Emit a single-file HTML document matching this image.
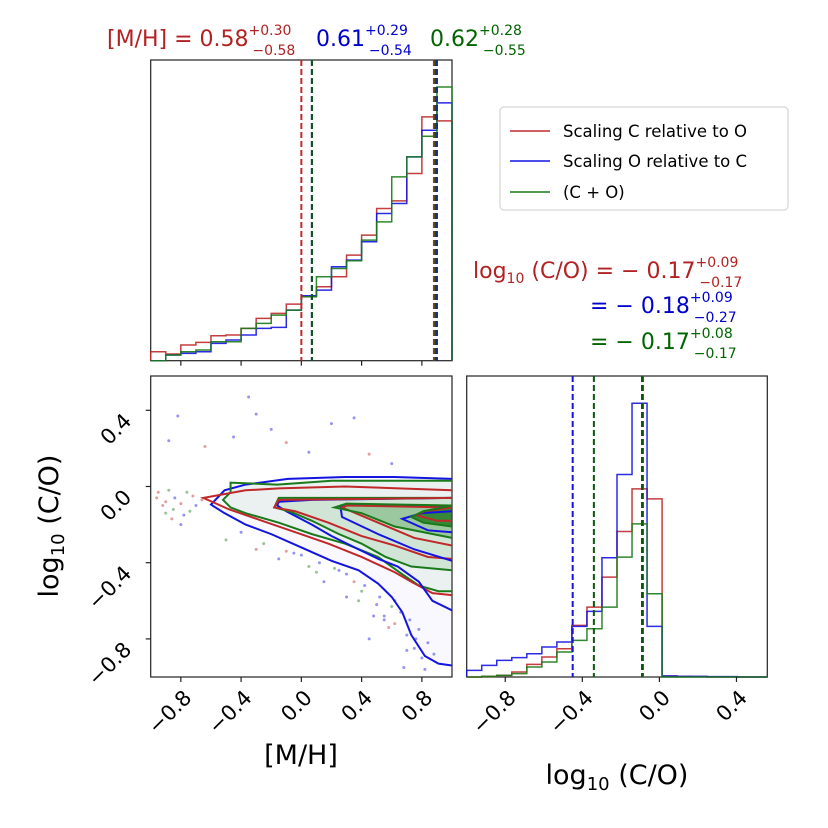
<!DOCTYPE html>
<html><head><meta charset="utf-8"><style>
html,body{margin:0;padding:0;background:#fff;}
svg{display:block;font-family:"DejaVu Sans","Liberation Sans",sans-serif;}
</style></head><body>
<svg id="fig" width="828" height="828" viewBox="0 0 828 828" xmlns="http://www.w3.org/2000/svg">
<g id="layer"></g>
<text x="107" y="46" font-size="22" fill="#b22222">[M/H] = 0.58<tspan font-size="14" dy="-11">+0.30</tspan><tspan font-size="14" dx="-39" dy="20">−0.58</tspan></text>
<text x="316" y="46" font-size="22" fill="#0000cd">0.61<tspan font-size="14" dy="-11">+0.29</tspan><tspan font-size="14" dx="-39" dy="20">−0.54</tspan></text>
<text x="430" y="46" font-size="22" fill="#006400">0.62<tspan font-size="14" dy="-11">+0.28</tspan><tspan font-size="14" dx="-39" dy="20">−0.55</tspan></text>
<text x="473" y="278" font-size="22" fill="#b22222">log<tspan font-size="14" dy="5">10</tspan><tspan dy="-5"> (C/O) = − 0.17</tspan><tspan font-size="14" dy="-11">+0.09</tspan><tspan font-size="14" dx="-39" dy="20">−0.17</tspan></text>
<text x="590" y="313" font-size="22" fill="#0000cd">= − 0.18<tspan font-size="14" dy="-11">+0.09</tspan><tspan font-size="14" dx="-39" dy="20">−0.27</tspan></text>
<text x="590" y="349" font-size="22" fill="#006400">= − 0.17<tspan font-size="14" dy="-11">+0.08</tspan><tspan font-size="14" dx="-39" dy="20">−0.17</tspan></text>
<g>
<rect x="500" y="107" width="288" height="103" rx="4" fill="#fff" stroke="#ccc"/>
<line x1="510" y1="131" x2="550" y2="131" stroke="#c0282a" stroke-width="1.6"/>
<text x="563" y="137" font-size="16.5">Scaling C relative to O</text>
<line x1="510" y1="161" x2="550" y2="161" stroke="#1414e0" stroke-width="1.6"/>
<text x="563" y="167" font-size="16.5">Scaling O relative to C</text>
<line x1="510" y1="192" x2="550" y2="192" stroke="#1a7a1a" stroke-width="1.6"/>
<text x="563" y="198" font-size="16.5">(C + O)</text>
</g>
<text transform="translate(58,526) rotate(-90)" text-anchor="middle" font-size="27">log<tspan font-size="18" dy="6">10</tspan><tspan dy="-6"> (C/O)</tspan></text>
<text x="301" y="764" text-anchor="middle" font-size="27">[M/H]</text>
<text x="617" y="784" text-anchor="middle" font-size="27">log<tspan font-size="18" dy="6">10</tspan><tspan dy="-6"> (C/O)</tspan></text>
</svg>
<script>
// ---- data ----
const mhBinsLo = -1.0, mhBinsHi = 1.0;
const mhRed   = [27,20,47,55,75,77,97,127,142,170,192,222,252,317,377,457,480,562,732,720];
const mhBlue  = [0,17,22,27,52,62,77,97,100,152,195,212,282,302,357,442,472,612,692,774];
const mhGreen = [0,17,27,32,57,57,97,112,137,152,192,252,277,300,362,417,552,612,674,822];
const mhMax = 902;
const coBinsLo = -1.0, coBinsHi = 0.56;
const coRed   = [0,2,5,15,38,60,85,155,210,300,437,565,535,3,2,1,0,0,0,0];
const coBlue  = [20,35,50,58,70,90,105,152,197,358,608,822,152,3,2,2,1,1,0,0];
const coGreen = [0,2,5,10,30,45,75,110,145,210,360,460,250,0,0,0,0,0,0,0];
const coMax = 903;
const mhQuantRed = [0.0, 0.88], mhQuantBlue = [0.07, 0.90], mhQuantGreen = [0.07, 0.89];
const coQuantRed = [-0.085], coQuantBlue = [-0.45, -0.09], coQuantGreen = [-0.34, -0.09];
const mhTicks = [-0.8,-0.4,0.0,0.4,0.8];
const mhTickLabels = ["−0.8","−0.4","0.0","0.4","0.8"];
const coTicks = [-0.8,-0.4,0.0,0.4];
const coTickLabels = ["−0.8","−0.4","0.0","0.4"];
const blueOuterX = [1.0,0.62,0.29,-0.09,-0.37,-0.51,-0.6,-0.51,-0.37,-0.2,0.0,0.2,0.38,0.51,0.6,0.67,0.73,0.82,0.91,1.0];
const blueOuterY = [0.04,0.05,0.05,0.04,0.01,-0.02,-0.095,-0.14,-0.2,-0.25,-0.32,-0.39,-0.44,-0.51,-0.58,-0.66,-0.78,-0.89,-0.93,-0.94];
const greenOuterX = [1.0,0.2,-0.16,-0.47,-0.47,-0.52,-0.47,-0.37,-0.15,0.07,0.29,0.51,0.65,0.78,0.91,1.0];
const greenOuterY = [0.03,0.03,0.01,0.02,-0.03,-0.07,-0.11,-0.14,-0.19,-0.25,-0.3,-0.37,-0.45,-0.52,-0.55,-0.55];
const redOuterX = [1.0,0.29,-0.15,-0.37,-0.65,-0.48,-0.26,-0.04,0.18,0.4,0.62,0.73,0.87,1.0];
const redOuterY = [-0.02,0.0,-0.01,-0.02,-0.06,-0.12,-0.18,-0.24,-0.3,-0.37,-0.45,-0.5,-0.56,-0.57];
const blueMidX = [1.0,0.07,-0.15,-0.16,-0.1,0.07,0.2,0.38,0.51,0.64,0.78,0.87,1.0];
const blueMidY = [-0.06,-0.07,-0.08,-0.1,-0.13,-0.2,-0.26,-0.33,-0.38,-0.42,-0.5,-0.6,-0.65];
const greenMidX = [1.0,-0.15,-0.18,-0.08,0.07,0.25,0.4,0.56,0.73,1.0];
const greenMidY = [-0.06,-0.06,-0.11,-0.13,-0.18,-0.25,-0.3,-0.37,-0.42,-0.44];
const redMidX = [1.0,-0.15,-0.18,-0.04,0.18,0.4,0.62,0.84,1.0];
const redMidY = [-0.06,-0.07,-0.11,-0.13,-0.19,-0.26,-0.31,-0.37,-0.38];
const blueInX = [1.0,0.3,0.26,0.27,0.51,0.75,1.0];
const blueInY = [-0.1,-0.1,-0.11,-0.16,-0.25,-0.33,-0.39];
const greenInX = [1.0,0.3,0.22,0.4,0.62,1.0];
const greenInY = [-0.1,-0.09,-0.11,-0.14,-0.21,-0.27];
const redInX = [1.0,0.3,0.27,0.51,0.75,1.0];
const redInY = [-0.11,-0.1,-0.11,-0.19,-0.27,-0.31];
const blueCoreX = [1.0,0.8,0.67,0.84,1.0];
const blueCoreY = [-0.13,-0.14,-0.17,-0.23,-0.24];
const greenCoreX = [1.0,0.81,0.73,0.81,1.0];
const greenCoreY = [-0.1,-0.13,-0.16,-0.19,-0.21];
const redCoreX = [1.0,0.82,0.76,0.9,1.0];
const redCoreY = [-0.11,-0.13,-0.15,-0.18,-0.18];
const scatX = [-0.88,-0.82,-0.64,-0.45,-0.35,-0.3,-0.2,-0.1,0.05,0.2,0.35,0.45,0.6,-0.9,-0.85,-0.78,-0.72,-0.95,-0.5,-0.3,-0.15,0.05,0.15,0.3,0.4,0.5,0.55,0.62,0.7,0.75,0.8,0.3,0.1,-0.05,0.45,0.68,
  -0.92,-0.88,-0.84,-0.8,-0.76,-0.7,-0.66,-0.9,-0.86,-0.8,-0.74,-0.96,-0.4,-0.25,-0.1,0.0,0.12,0.22,0.35,0.42,0.52,0.6,0.66,0.72,0.78,0.84,0.7,0.58,0.48,0.38,0.25,0.62,0.76,0.88,0.55,0.82];
const scatY = [0.24,0.37,0.21,0.26,0.47,0.38,0.3,0.23,0.18,0.33,0.36,0.17,0.12,-0.08,-0.12,-0.15,-0.05,-0.03,-0.28,-0.33,-0.38,-0.42,-0.5,-0.46,-0.55,-0.62,-0.68,-0.72,-0.78,-0.85,-0.9,-0.58,-0.45,-0.35,-0.8,-0.95,
  -0.1,-0.02,-0.06,-0.09,-0.03,-0.1,-0.07,-0.14,-0.17,-0.2,-0.13,-0.06,-0.24,-0.3,-0.34,-0.36,-0.4,-0.43,-0.5,-0.52,-0.58,-0.63,-0.66,-0.7,-0.75,-0.82,-0.86,-0.74,-0.68,-0.6,-0.44,-0.6,-0.8,-0.88,-0.7,-0.96];
const scatC = ["b","b","r","b","b","b","b","r","b","b","b","r","b","r","g","b","r","r","g","r","b","g","b","b","g","b","b","r","b","b","b","b","g","b","b","b",
  "r","g","b","r","g","b","r","g","r","b","g","r","b","g","r","b","b","g","r","b","b","g","b","b","b","b","b","r","b","g","b","b","b","b","b","b"];

// ---- helpers ----
const NS="http://www.w3.org/2000/svg";
const L=document.getElementById('layer');
function mk(tag,attrs,parent){const e=document.createElementNS(NS,tag);for(const k in attrs)e.setAttribute(k,attrs[k]);(parent||L).appendChild(e);return e;}
const COL={r:"#c0282a",b:"#1414e0",g:"#1a7a1a"};
const P1={x0:150.7,x1:452,y0:60,y1:360.7};
const P2={x0:150.7,x1:452,y0:376,y1:677};
const P3={x0:466.7,x1:767.3,y0:376,y1:677};
const mhX=(v,p)=>p.x0+(v-mhBinsLo)/(mhBinsHi-mhBinsLo)*(p.x1-p.x0);
const coXs=v=>P3.x0+(v-coBinsLo)/(coBinsHi-coBinsLo)*(P3.x1-P3.x0);
const coYs=v=>P2.y1-(v-(-1.0))/(0.58-(-1.0))*(P2.y1-P2.y0);

function hist(vals,max,p,xf,lo,hi,col,name){
  const n=vals.length,w=(hi-lo)/n;let d="";
  vals.forEach((v,i)=>{const xa=xf(lo+i*w),xb=xf(lo+(i+1)*w),y=p.y1-v/max*(p.y1-p.y0)*0.999;
    d+=(i==0?"M"+xa+","+p.y1+" L":" L")+xa+","+y+" L"+xb+","+y;});
  d+=" L"+xf(hi)+","+p.y1;
  const e=mk('path',{d:d,fill:"none",stroke:col,"stroke-width":1.5,"stroke-opacity":0.9});
  
  
}
function vline(x,p,col,name){
  const e=mk('line',{x1:x,x2:x,y1:p.y0,y2:p.y1,stroke:col,"stroke-width":2,"stroke-dasharray":"6,3"});
  
  
}
const defs=mk('defs',{});
const cp=mk('clipPath',{id:"c2"},defs);mk('rect',{x:P2.x0,y:P2.y0,width:P2.x1-P2.x0,height:P2.y1-P2.y0},cp);

[[P1,'mh-histogram-panel'],[P2,'joint-panel'],[P3,'co-histogram-panel']].forEach(([p,n])=>{
  const r=mk('rect',{x:p.x0,y:p.y0,width:p.x1-p.x0,height:p.y1-p.y0,fill:"#fff",stroke:"#222","stroke-width":1.2});
  
  
});

const g2=mk('g',{"clip-path":"url(#c2)"});
function fillPoly(xs,ys,col,op,name){let d="";xs.forEach((x,i)=>{d+=(i?" L":"M")+mhX(x,P2)+","+coYs(ys[i]);});d+=" Z";
  const e=mk('path',{d:d,fill:col,"fill-opacity":op},g2);
  
  }
// scatter below shading
scatX.forEach((x,i)=>{const c=mk('circle',{cx:mhX(x,P2),cy:coYs(scatY[i]),r:1.5,fill:COL[scatC[i]],"fill-opacity":0.45},g2);
  
  });
fillPoly(blueOuterX,blueOuterY,"#8080f0",0.06,'density-blue-tail');
fillPoly(greenOuterX,greenOuterY,"#3c9a3c",0.07,'density-outer');
fillPoly(greenMidX,greenMidY,"#3c9a3c",0.14,'density-mid');
fillPoly(greenInX,greenInY,"#1f861f",0.3,'density-inner');
fillPoly(greenCoreX,greenCoreY,"#006400",0.65,'density-core');

const gc=mk('g',{"clip-path":"url(#c2)"});
function cont(xs,ys,col,name){let d="";xs.forEach((x,i)=>{d+=(i?" L":"M")+mhX(x,P2)+","+coYs(ys[i]);});
  const e=mk('path',{d:d,fill:"none",stroke:col,"stroke-width":2},gc);
  
  }
cont(blueOuterX,blueOuterY,COL.b,'contour-blue-outer');
cont(greenOuterX,greenOuterY,COL.g,'contour-green-outer');
cont(redOuterX,redOuterY,COL.r,'contour-red-outer');
cont(blueMidX,blueMidY,COL.b,'contour-blue-mid');
cont(greenMidX,greenMidY,COL.g,'contour-green-mid');
cont(redMidX,redMidY,COL.r,'contour-red-mid');
cont(blueInX,blueInY,COL.b,'contour-blue-inner');
cont(redInX,redInY,COL.r,'contour-red-inner');
cont(greenInX,greenInY,COL.g,'contour-green-inner');
cont(blueCoreX,blueCoreY,COL.b,'contour-blue-core');
cont(redCoreX,redCoreY,COL.r,'contour-red-core');
cont(greenCoreX,greenCoreY,COL.g,'contour-green-core');

hist(mhRed,mhMax,P1,v=>mhX(v,P1),mhBinsLo,mhBinsHi,COL.r,'mh-hist-red');
hist(mhBlue,mhMax,P1,v=>mhX(v,P1),mhBinsLo,mhBinsHi,COL.b,'mh-hist-blue');
hist(mhGreen,mhMax,P1,v=>mhX(v,P1),mhBinsLo,mhBinsHi,COL.g,'mh-hist-green');
mhQuantRed.forEach(q=>vline(mhX(q,P1),P1,"#c0282a",'mh-quantile-red'));
mhQuantBlue.forEach(q=>vline(mhX(q,P1),P1,"#1414e0",'mh-quantile-blue'));
mhQuantGreen.forEach(q=>vline(mhX(q,P1),P1,"#0a5a0a",'mh-quantile-green'));
hist(coRed,coMax,P3,coXs,coBinsLo,coBinsHi,COL.r,'co-hist-red');
hist(coBlue,coMax,P3,coXs,coBinsLo,coBinsHi,COL.b,'co-hist-blue');
hist(coGreen,coMax,P3,coXs,coBinsLo,coBinsHi,COL.g,'co-hist-green');
coQuantRed.forEach(q=>vline(coXs(q),P3,"#c0282a",'co-quantile-red'));
coQuantBlue.forEach(q=>vline(coXs(q),P3,"#1414e0",'co-quantile-blue'));
coQuantGreen.forEach(q=>vline(coXs(q),P3,"#0a5a0a",'co-quantile-green'));

function tick(x1,y1,x2,y2){const t=mk('line',{x1:x1,y1:y1,x2:x2,y2:y2,stroke:"#222","stroke-width":1.2});
  
  }
function lab(x,y,s,name){const t=mk('text',{x:0,y:0,"font-size":21,"text-anchor":"end",transform:"translate("+x+","+y+") rotate(-45)"});t.textContent=s;
  
  }
mhTicks.forEach((v,i)=>{tick(mhX(v,P1),P1.y1,mhX(v,P1),P1.y1+5);
  const x=mhX(v,P2);tick(x,P2.y1,x,P2.y1+5);lab(x+12,P2.y1+22,mhTickLabels[i],'x-tick-label-mh');});
coTicks.forEach((v,i)=>{const x=coXs(v);tick(x,P3.y1,x,P3.y1+5);lab(x+12,P3.y1+22,coTickLabels[i],'x-tick-label-co');
  const y=coYs(v);tick(P2.x0-5,y,P2.x0,y);lab(P2.x0-18,y+12,coTickLabels[i],'y-tick-label-co');});
</script>
</body></html>
